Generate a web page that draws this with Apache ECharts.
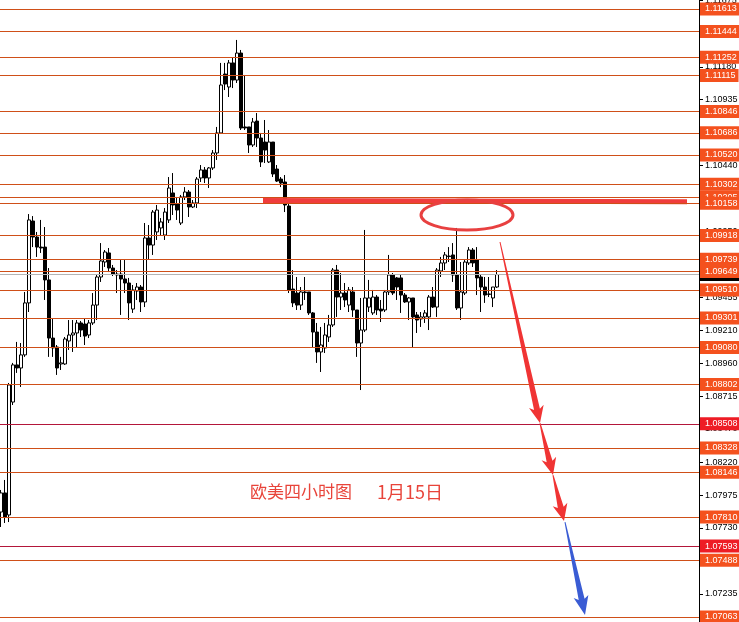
<!DOCTYPE html>
<html><head><meta charset="utf-8">
<script src="https://cdn.jsdelivr.net/npm/echarts@6/dist/echarts.min.js"></script>
<style>html,body{margin:0;padding:0;background:#fff;overflow:hidden}#c{width:739px;height:622px}</style>
</head><body><div id="c"></div>
<script>
// EURUSD 4H candles: [open, close, low, high]
const candles = [
[1.07848,1.07991,1.07736,1.08013],[1.07991,1.07811,1.07766,1.08088],[1.07826,1.08799,1.07773,1.08814],[1.08671,1.08949,1.08649,1.08964],
[1.08949,1.08926,1.08889,1.09121],[1.08926,1.09024,1.08784,1.09113],[1.09024,1.09413,1.09009,1.09495],[1.09413,1.10034,1.09345,1.10078],
[1.10026,1.09906,1.09831,1.10063],[1.09906,1.09831,1.09757,1.09944],[1.09831,1.09824,1.09787,1.10034],[1.09831,1.09585,1.09435,1.09981],
[1.09585,1.09150,1.09009,1.09674],[1.09150,1.09076,1.09009,1.09300],[1.09083,1.08926,1.08874,1.09098],[1.08956,1.08964,1.08911,1.09009],
[1.08956,1.09143,1.08949,1.09158],[1.09128,1.09173,1.09061,1.09285],[1.09173,1.09188,1.09046,1.09285],[1.09188,1.09263,1.09083,1.09285],
[1.09263,1.09210,1.09158,1.09278],[1.09255,1.09165,1.09098,1.09300],[1.09173,1.09263,1.09150,1.09285],[1.09263,1.09397,1.09248,1.09487],
[1.09397,1.09607,1.09285,1.09622],[1.09607,1.09727,1.09570,1.09861],[1.09719,1.09794,1.09682,1.09809],[1.09787,1.09674,1.09644,1.09824],
[1.09674,1.09629,1.09614,1.09697],[1.09629,1.09622,1.09487,1.09659],[1.09629,1.09592,1.09323,1.09734],[1.09592,1.09562,1.09487,1.09734],
[1.09562,1.09413,1.09285,1.09600],[1.09367,1.09510,1.09338,1.09547],[1.09502,1.09532,1.09435,1.09562],[1.09532,1.09420,1.09345,1.09547],
[1.09420,1.09899,1.09382,1.10011],[1.09899,1.09846,1.09734,1.09996],[1.09846,1.10093,1.09772,1.10108],[1.09944,1.10108,1.09884,1.10146],
[1.09974,1.10019,1.09921,1.10048],[1.09921,1.10093,1.09884,1.10123],[1.10034,1.10273,1.10011,1.10355],[1.10236,1.10146,1.10071,1.10385],
[1.10153,1.10108,1.10034,1.10206],[1.10011,1.10206,1.09996,1.10221],[1.10206,1.10243,1.10183,1.10280],[1.10243,1.10131,1.10056,1.10258],
[1.10131,1.10161,1.10123,1.10183],[1.10161,1.10340,1.10123,1.10355],[1.10348,1.10408,1.10318,1.10445],[1.10408,1.10348,1.10310,1.10430],
[1.10348,1.10423,1.10273,1.10430],[1.10423,1.10535,1.10408,1.10557],[1.10535,1.10685,1.10483,1.10730],[1.10685,1.11044,1.10677,1.11209],
[1.11126,1.11051,1.11006,1.11209],[1.11029,1.11209,1.10954,1.11231],[1.11209,1.11081,1.11021,1.11246],[1.11081,1.11283,1.11059,1.11381],
[1.11283,1.10722,1.10707,1.11306],[1.10730,1.10722,1.10707,1.11119],[1.10730,1.10595,1.10535,1.10730],[1.10595,1.10767,1.10580,1.10797],
[1.10774,1.10647,1.10580,1.10834],[1.10647,1.10468,1.10430,1.10685],[1.10617,1.10557,1.10460,1.10782],[1.10468,1.10617,1.10460,1.10707],
[1.10617,1.10378,1.10355,1.10617],[1.10415,1.10325,1.10318,1.10445],[1.10340,1.10310,1.10280,1.10355],[1.10318,1.10146,1.10093,1.10370],
[1.10138,1.09510,1.09487,1.10161],[1.09517,1.09413,1.09382,1.09659],[1.09487,1.09397,1.09360,1.09607],[1.09397,1.09495,1.09360,1.09532],
[1.09495,1.09490,1.09435,1.09607],[1.09495,1.09338,1.09323,1.09495],[1.09338,1.09195,1.09083,1.09345],[1.09195,1.09046,1.08964,1.09263],
[1.09046,1.09098,1.08896,1.09233],[1.09076,1.09173,1.09038,1.09263],[1.09158,1.09248,1.09121,1.09323],[1.09248,1.09659,1.09233,1.09674],
[1.09659,1.09457,1.09308,1.09697],[1.09457,1.09487,1.09360,1.09637],[1.09487,1.09435,1.09382,1.09562],[1.09397,1.09510,1.09345,1.09532],
[1.09495,1.09360,1.09308,1.09532],[1.09360,1.09113,1.09009,1.09360],[1.09113,1.09210,1.08761,1.09450],[1.09210,1.09450,1.09195,1.09959],
[1.09382,1.09450,1.09345,1.09585],[1.09338,1.09457,1.09323,1.09510],[1.09457,1.09360,1.09323,1.09472],[1.09367,1.09353,1.09270,1.09435],
[1.09360,1.09495,1.09345,1.09510],[1.09495,1.09622,1.09472,1.09772],[1.09622,1.09487,1.09472,1.09637],[1.09600,1.09532,1.09435,1.09607],
[1.09600,1.09472,1.09338,1.09622],[1.09472,1.09420,1.09413,1.09487],[1.09420,1.09450,1.09285,1.09457],[1.09450,1.09308,1.09083,1.09450],
[1.09323,1.09285,1.09188,1.09345],[1.09293,1.09308,1.09233,1.09345],[1.09308,1.09338,1.09263,1.09360],[1.09308,1.09457,1.09210,1.09472],
[1.09457,1.09382,1.09375,1.09532],[1.09382,1.09659,1.09308,1.09674],[1.09652,1.09712,1.09607,1.09757],[1.09712,1.09772,1.09659,1.09794],
[1.09764,1.09760,1.09719,1.09831],[1.09772,1.09622,1.09570,1.09861],[1.09622,1.09375,1.09360,1.09974],[1.09375,1.09495,1.09285,1.09719],
[1.09487,1.09719,1.09472,1.09734],[1.09712,1.09809,1.09697,1.09831],[1.09809,1.09712,1.09682,1.09824],[1.09734,1.09600,1.09472,1.09831],
[1.09607,1.09532,1.09345,1.09622],[1.09532,1.09472,1.09413,1.09607],[1.09480,1.09477,1.09457,1.09607],[1.09450,1.09532,1.09382,1.09532],
[1.09532,1.09625,1.09525,1.09659]
];
const slotCount = 175;                       // time slots on the x axis (incl. empty future)
const hiddenLevels = [1.10205];              // level partly covered by neighbours
const levels = [1.11613,1.11444,1.11252,1.11115,1.10846,1.10686,1.10520,1.10302,1.10158,1.09918,1.09739,1.09649,1.09510,1.09301,1.09080,1.08802,1.08508,1.08328,1.08146,1.07810,1.07593,1.07488,1.07063];
const redLevels = [1.08508,1.07593];
const tickValues = [1.11675,1.11430,1.11180,1.10935,1.10690,1.10440,1.10195,1.09950,1.09700,1.09455,1.09210,1.08960,1.08715,1.08470,1.08220,1.07975,1.07730,1.07485,1.07235];
const lastPrice = 1.09625;
const resistanceLine = [[65.5,1.10180],[171.5,1.10170]];
const ellipseBox = [[105,1.10183,128,1.09959]];
const arrowsRed = [[124.75,1.09869,134.75,1.08514],[134.75,1.08514,138,1.08125],[138,1.08125,140.75,1.07781]];
const arrowsBlue = [[141,1.07773,146,1.07077]];
const titleMain = '欧美四小时图';
const titleDate = '1月15日';

const categories = Array.from({length: slotCount}, (_, i) => 'T' + i);
const fmt = v => Number(v).toFixed(5);
const ORANGE_LINE = '#cf4f18', ORANGE_BOX = '#f4511e', RED_LINE = '#b3163a', RED_BOX = '#ee1c25';
const BOX_FONT = { fontSize: 9, fontFamily: 'Liberation Sans', padding: [2, 3, 2, 5] };

function levelItem(v) {
  const red = redLevels.includes(v);
  return { yAxis: v, lineStyle: { color: red ? RED_LINE : ORANGE_LINE },
           label: { backgroundColor: red ? RED_BOX : ORANGE_BOX } };
}

function arrowRender(color, headLen, headW, w0, w1) {
  return function (params, api) {
    const a = api.coord([api.value(0), api.value(1)]);
    const b = api.coord([api.value(2), api.value(3)]);
    const dx = b[0]-a[0], dy = b[1]-a[1], len = Math.hypot(dx, dy);
    const ux = dx/len, uy = dy/len, nx = -uy, ny = ux;
    const base = [b[0]-ux*headLen, b[1]-uy*headLen];
    const notch = [base[0]+ux*3, base[1]+uy*3];
    const pts = [
      [a[0]+nx*w0/2, a[1]+ny*w0/2],
      [notch[0]+nx*w1/2, notch[1]+ny*w1/2],
      [base[0]+nx*headW/2, base[1]+ny*headW/2],
      [b[0], b[1]],
      [base[0]-nx*headW/2, base[1]-ny*headW/2],
      [notch[0]-nx*w1/2, notch[1]-ny*w1/2],
      [a[0]-nx*w0/2, a[1]-ny*w0/2]
    ];
    return { type: 'polygon', shape: { points: pts }, style: { fill: color } };
  };
}

const chart = echarts.init(document.getElementById('c'));
chart.setOption({
  animation: false,
  backgroundColor: '#ffffff',
  grid: { left: -1, right: 40, top: 0, bottom: 0, containLabel: false, outerBoundsMode: 'none' },
  xAxis: [
    { type: 'category', data: categories, boundaryGap: true, show: false },
    { type: 'value', min: -0.5, max: slotCount - 0.5, show: false }
  ],
  yAxis: {
    type: 'value', position: 'right', min: 1.07025, max: 1.11680, scale: true,
    splitLine: { show: false },
    axisLine: { show: true, onZero: false, lineStyle: { color: '#000', width: 1 } },
    axisTick: { show: true, inside: false, length: 4, customValues: tickValues, lineStyle: { color: '#000' } },
    axisLabel: { customValues: tickValues, formatter: fmt, color: '#000', fontSize: 9,
                 fontFamily: 'Liberation Sans', margin: 6 }
  },
  graphic: [
    { type: 'text', x: 250, y: 492, z: 50, style: { text: titleMain, fill: '#e8443a',
      font: '17px "Noto Sans CJK SC"', textVerticalAlign: 'middle' } },
    { type: 'text', x: 377, y: 492, z: 50, style: { text: titleDate, fill: '#e8443a',
      font: '18px "Noto Sans CJK SC"', textVerticalAlign: 'middle' } }
  ],
  series: [
    { type: 'candlestick', xAxisIndex: 0, data: [], z: 1,
      markLine: { silent: true, symbol: 'none', animation: false, precision: 5,
        lineStyle: { color: '#b4b4b4', width: 1, type: 'solid' },
        label: Object.assign({ position: 'end', distance: 1, formatter: p => fmt(p.value), color: '#fff',
                 backgroundColor: '#000' }, BOX_FONT),
        data: [{ yAxis: lastPrice }] } },
    { type: 'candlestick', xAxisIndex: 0, data: candles, barWidth: 3, z: 3,
      itemStyle: { color: '#ffffff', color0: '#000000', borderColor: '#000000', borderColor0: '#000000', borderWidth: 1 },
      emphasis: { disabled: true },
      markLine: { silent: true, symbol: 'none', animation: false, precision: 5,
        lineStyle: { width: 1, type: 'solid' },
        label: Object.assign({ position: 'end', distance: 1, formatter: p => fmt(p.value), color: '#fff' }, BOX_FONT),
        data: hiddenLevels.concat(levels).map(levelItem) } },
    { type: 'line', xAxisIndex: 1, data: resistanceLine, symbol: 'none', z: 4,
      lineStyle: { color: '#f03c3c', width: 5 } },
    { type: 'custom', xAxisIndex: 1, data: ellipseBox, z: 5,
      renderItem: (params, api) => {
        const p1 = api.coord([api.value(0), api.value(1)]);
        const p2 = api.coord([api.value(2), api.value(3)]);
        return { type: 'ellipse', shape: { cx: (p1[0]+p2[0])/2, cy: (p1[1]+p2[1])/2,
                 rx: Math.abs(p2[0]-p1[0])/2, ry: Math.abs(p2[1]-p1[1])/2 },
                 style: { fill: 'none', stroke: '#e84040', lineWidth: 3 } };
      } },
    { type: 'custom', xAxisIndex: 1, data: arrowsRed, z: 5, renderItem: arrowRender('#f03434', 17, 15, 1, 6) },
    { type: 'custom', xAxisIndex: 1, data: arrowsBlue, z: 5, renderItem: arrowRender('#3a5cd4', 19, 15, 1, 6) }
  ]
});
</script>
</body></html>
